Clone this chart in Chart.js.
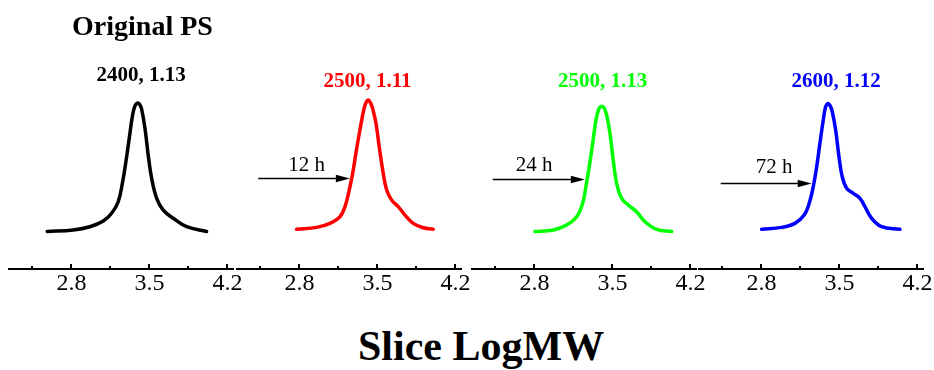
<!DOCTYPE html>
<html>
<head>
<meta charset="utf-8">
<script src="https://cdn.jsdelivr.net/npm/chart.js@4/dist/chart.umd.min.js"></script>
<style>
  html, body { margin: 0; padding: 0; background: #fff; }
  #wrap { position: relative; width: 934px; height: 370px; overflow: hidden; background: #fff; }
  canvas { position: absolute; top: 0; }
  .lbl { position: absolute; width: 240px; text-align: center; white-space: nowrap;
         font-family: "Liberation Serif", "Times New Roman", serif; line-height: 1; color: #000; }
  .b { font-weight: bold; }
</style>
</head>
<body>
<div id="wrap">
  <canvas id="c0" width="264" height="309" style="left:-11px"></canvas>
  <canvas id="c1" width="264" height="309" style="left:217px"></canvas>
  <canvas id="c2" width="264" height="309" style="left:452px"></canvas>
  <canvas id="c3" width="264" height="309" style="left:679px"></canvas>

  <div class="lbl b" style="left:22.5px; top:11.5px; font-size:28px;">Original PS</div>
  <div class="lbl b" id="t0" style="left:21px; top:64px; font-size:21px;"></div>
  <div class="lbl b" id="t1" style="left:247.5px; top:70px; font-size:21px; color:#ff0000;"></div>
  <div class="lbl b" id="t2" style="left:482.5px; top:70px; font-size:21px; color:#00ff00;"></div>
  <div class="lbl b" id="t3" style="left:716px; top:70px; font-size:21px; color:#0000ff;"></div>
  <div class="lbl" id="h1" style="left:186.5px; top:154px; font-size:21px;"></div>
  <div class="lbl" id="h2" style="left:414px; top:154px; font-size:21px;"></div>
  <div class="lbl" id="h3" style="left:654px; top:155.7px; font-size:21px;"></div>
  <div class="lbl b" style="left:358px; top:324.8px; font-size:42px;">Slice LogMW</div>
</div>
<script>
// ---- data ----
const tickValues = [2.45, 2.8, 3.15, 3.5, 3.85, 4.2];
const majorTicks = [2.8, 3.5, 4.2];
const tickLabels = ['2.8', '3.5', '4.2'];

const panelLabels = ['2400, 1.13', '2500, 1.11', '2500, 1.13', '2600, 1.12'];
const timeLabels = ['', '12 h', '24 h', '72 h'];
const colors = ['#000000', '#ff0000', '#00ff00', '#0000ff'];

const logMW_orig = [2.583, 2.817, 2.966, 3.086, 3.161, 3.220, 3.260, 3.289, 3.319, 3.349, 3.370, 3.391, 3.410, 3.430, 3.460, 3.489, 3.520, 3.565, 3.624, 3.714, 3.834, 4.013];
const signal_orig = [0.000, 0.012, 0.037, 0.081, 0.141, 0.230, 0.385, 0.539, 0.720, 0.900, 0.970, 0.992, 0.985, 0.945, 0.797, 0.591, 0.411, 0.256, 0.166, 0.102, 0.037, 0.000];

const logMW_12h = [2.775, 2.955, 3.074, 3.164, 3.209, 3.247, 3.278, 3.307, 3.343, 3.379, 3.400, 3.418, 3.437, 3.457, 3.487, 3.516, 3.552, 3.583, 3.627, 3.687, 3.747, 3.821, 3.911, 4.001];
const signal_12h = [0.017, 0.032, 0.063, 0.114, 0.192, 0.320, 0.449, 0.604, 0.784, 0.945, 1.000, 1.015, 0.995, 0.950, 0.836, 0.655, 0.449, 0.320, 0.243, 0.192, 0.127, 0.063, 0.029, 0.017];

const logMW_24h = [2.805, 2.969, 3.089, 3.179, 3.233, 3.262, 3.292, 3.323, 3.352, 3.380, 3.403, 3.425, 3.448, 3.478, 3.507, 3.538, 3.583, 3.642, 3.717, 3.792, 3.896, 4.031];
const signal_24h = [0.000, 0.012, 0.050, 0.114, 0.218, 0.346, 0.500, 0.681, 0.861, 0.950, 0.968, 0.955, 0.900, 0.758, 0.552, 0.372, 0.256, 0.205, 0.153, 0.076, 0.017, 0.000];

const logMW_72h = [2.802, 2.982, 3.101, 3.184, 3.229, 3.265, 3.296, 3.325, 3.355, 3.375, 3.394, 3.415, 3.436, 3.466, 3.496, 3.525, 3.565, 3.624, 3.684, 3.729, 3.789, 3.879, 4.043];
const signal_72h = [0.017, 0.032, 0.063, 0.127, 0.218, 0.346, 0.500, 0.681, 0.861, 0.960, 0.988, 0.975, 0.925, 0.784, 0.578, 0.424, 0.334, 0.295, 0.256, 0.192, 0.102, 0.037, 0.017];

// arrows: [start logMW, end logMW, signal level]
const arrow_12h = [2.431, 3.253, 0.411];
const arrow_24h = [2.426, 3.253, 0.403];
const arrow_72h = [2.435, 3.251, 0.372];

const series = [
  [logMW_orig, signal_orig, null],
  [logMW_12h, signal_12h, arrow_12h],
  [logMW_24h, signal_24h, arrow_24h],
  [logMW_72h, signal_72h, arrow_72h]
];

const serif = '"Liberation Serif", "Times New Roman", serif';

const innerTicks = {
  id: 'innerTicks',
  afterDraw(chart) {
    const s = chart.scales.x, ctx = chart.ctx, y = chart.chartArea.bottom;
    ctx.save();
    ctx.strokeStyle = '#000';
    ctx.lineWidth = 2;
    s.ticks.forEach(t => {
      const x = Math.round(s.getPixelForValue(t.value));
      const len = t.major ? 5 : 3;
      ctx.beginPath();
      ctx.moveTo(x, y);
      ctx.lineTo(x, y - len);
      ctx.stroke();
    });
    ctx.restore();
  }
};

const arrowPlugin = {
  id: 'arrowPlugin',
  afterDatasetsDraw(chart, args, opts) {
    const a = opts.arrow;
    if (!a) return;
    const xs = chart.scales.x, ys = chart.scales.y, ctx = chart.ctx;
    const x0 = xs.getPixelForValue(a[0]), x1 = xs.getPixelForValue(a[1]);
    const y = Math.round(ys.getPixelForValue(a[2])) + 0.5;
    const head = 14, hh = 3.8;
    ctx.save();
    ctx.strokeStyle = '#000';
    ctx.fillStyle = '#000';
    ctx.lineWidth = 1.6;
    ctx.beginPath();
    ctx.moveTo(x0, y);
    ctx.lineTo(x1 - head + 1, y);
    ctx.stroke();
    ctx.beginPath();
    ctx.moveTo(x1, y);
    ctx.lineTo(x1 - head, y - hh);
    ctx.lineTo(x1 - head, y + hh);
    ctx.closePath();
    ctx.fill();
    ctx.restore();
  }
};

series.forEach((s, i) => {
  const [xs, ys, arrow] = s;
  document.getElementById('t' + i).textContent = panelLabels[i];
  if (i > 0) document.getElementById('h' + i).textContent = timeLabels[i];
  new Chart(document.getElementById('c' + i), {
    type: 'line',
    data: {
      datasets: [{
        data: xs.map((x, k) => ({ x: x, y: ys[k] })),
        borderColor: colors[i],
        borderWidth: 3.5,
        pointRadius: 0,
        fill: false,
        tension: 0.4,
        borderJoinStyle: 'round',
        borderCapStyle: 'round'
      }]
    },
    options: {
      responsive: false,
      animation: false,
      devicePixelRatio: 1,
      layout: { padding: { left: 20, right: 20, top: 0, bottom: 0 } },
      plugins: {
        legend: { display: false },
        tooltip: { enabled: false },
        arrowPlugin: { arrow: arrow }
      },
      scales: {
        x: {
          type: 'linear',
          min: 2.24,
          max: 4.25,
          afterBuildTicks: (scale) => {
            scale.ticks = tickValues.map(v => ({ value: v, major: majorTicks.some(m => Math.abs(m - v) < 1e-6) }));
          },
          afterFit: (scale) => { scale.height = 40; },
          grid: { display: false, drawTicks: false },
          border: { display: true, color: '#000', width: 2 },
          ticks: {
            autoSkip: false,
            maxRotation: 0,
            padding: 0,
            color: '#000',
            font: { family: serif, size: 24 },
            callback: (v) => {
              const k = majorTicks.findIndex(m => Math.abs(m - v) < 1e-6);
              return k >= 0 ? tickLabels[k] : '';
            }
          }
        },
        y: {
          type: 'linear',
          display: false,
          min: -0.2896,
          max: 1.788
        }
      }
    },
    plugins: [innerTicks, arrowPlugin]
  });
});
</script>
</body>
</html>
